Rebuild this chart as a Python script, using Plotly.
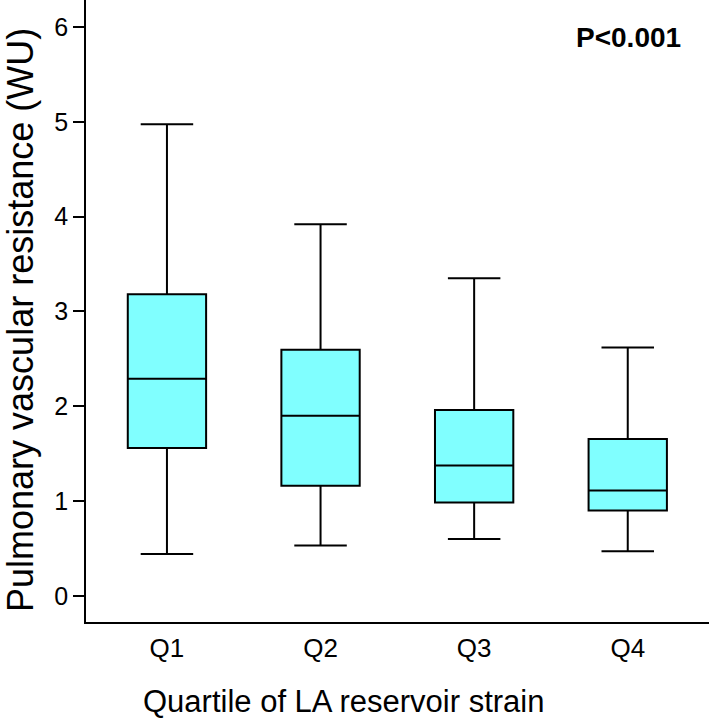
import plotly.graph_objects as go

categories = ["Q1", "Q2", "Q3", "Q4"]
positions = [0, 1, 2, 3]
lower_whisker = [0.44, 0.53, 0.60, 0.47]
q1_values = [1.56, 1.16, 0.985, 0.90]
median_values = [2.29, 1.90, 1.375, 1.11]
q3_values = [3.18, 2.595, 1.96, 1.655]
upper_whisker = [4.975, 3.92, 3.35, 2.62]
y_ticks = [0, 1, 2, 3, 4, 5, 6]

FONT = "Liberation Sans, Arial, Helvetica, sans-serif"

fig = go.Figure()
fig.add_trace(go.Box(
    x=positions,
    q1=q1_values,
    median=median_values,
    q3=q3_values,
    lowerfence=lower_whisker,
    upperfence=upper_whisker,
    boxpoints=False,
    fillcolor="#80FFFF",
    line=dict(color="black", width=2),
    width=0.51,
    whiskerwidth=0.67,
    showlegend=False,
    hoverinfo="skip",
))

fig.update_layout(
    width=709,
    height=718,
    margin=dict(l=86, r=0, t=0, b=96),
    plot_bgcolor="white",
    paper_bgcolor="white",
    font=dict(family=FONT, color="black"),
    xaxis=dict(
        range=[-0.527, 3.529],
        tickvals=positions,
        ticktext=categories,
        ticks="outside",
        ticklen=2,
        tickcolor="rgba(0,0,0,0)",
        tickfont=dict(size=26, family=FONT, color="black"),
        showline=True,
        linecolor="black",
        linewidth=1.5,
        showgrid=False,
        zeroline=False,
        mirror=False,
    ),
    yaxis=dict(
        range=[-0.276, 6.285],
        tickvals=y_ticks,
        ticks="outside",
        ticklen=11,
        tickwidth=1.5,
        tickcolor="black",
        tickfont=dict(size=25, family=FONT, color="black"),
        showline=True,
        linecolor="black",
        linewidth=1.5,
        showgrid=False,
        zeroline=False,
    ),
    annotations=[
        dict(
            text="Pulmonary vascular resistance (WU)",
            xref="paper", yref="paper",
            x=-0.106, y=0.4855,
            xanchor="center", yanchor="middle",
            textangle=-90, showarrow=False,
            font=dict(size=36, family=FONT, color="black"),
        ),
        dict(
            text="Quartile of LA reservoir strain",
            xref="paper", yref="paper",
            x=0.414, y=-0.1286,
            xanchor="center", yanchor="middle",
            showarrow=False,
            font=dict(size=31, family=FONT, color="black"),
        ),
        dict(
            text="<b>P<0.001</b>",
            xref="paper", yref="paper",
            x=0.870, y=0.9405,
            xanchor="center", yanchor="middle",
            showarrow=False,
            font=dict(size=28, family=FONT, color="black"),
        ),
    ],
)

fig.write_html(
    "out.html",
    config={"displayModeBar": False},
    post_script="document.body.style.margin='0';document.body.style.overflow='hidden';",
)
